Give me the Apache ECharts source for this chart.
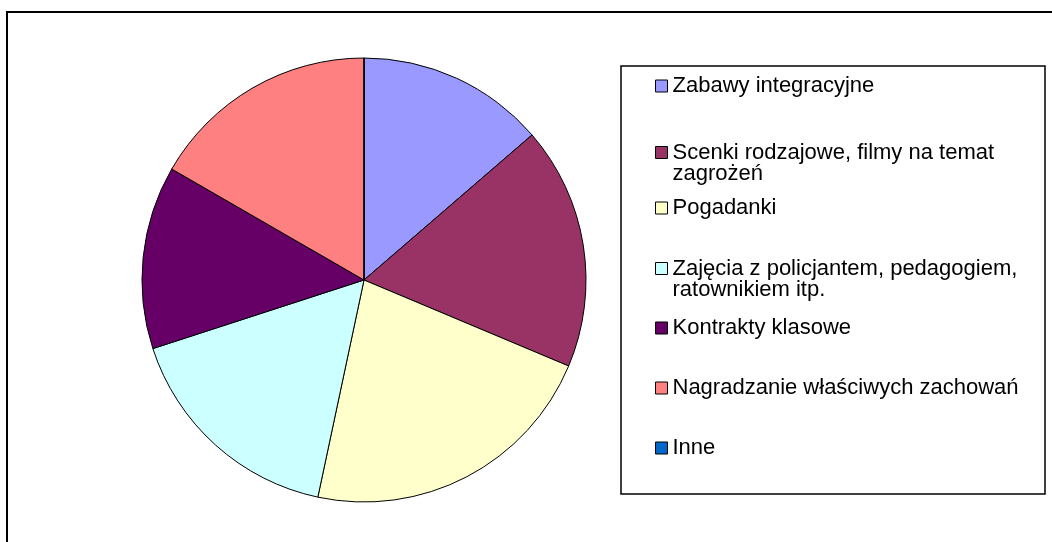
<!DOCTYPE html>
<html>
<head>
<meta charset="utf-8">
<script src="https://cdn.jsdelivr.net/npm/echarts@6/dist/echarts.min.js"></script>
<style>
html, body { margin: 0; padding: 0; background: #fff; }
#chart { width: 1052px; height: 542px; }
</style>
</head>
<body>
<div id="chart"></div>
<script>
// dane
var categories = [
  'Zabawy integracyjne',
  'Scenki rodzajowe, filmy na temat\nzagrożeń',
  'Pogadanki',
  'Zajęcia z policjantem, pedagogiem,\nratownikiem itp.',
  'Kontrakty klasowe',
  'Nagradzanie właściwych zachowań',
  'Inne'
];
var values = [41, 53, 66, 50, 40, 50, 0];

// wyglad
var colors = ['#9999FF', '#993366', '#FFFFCC', '#CCFFFF', '#660066', '#FF8080', '#0066CC'];
var legendY = [86, 152, 208, 268, 328, 388, 448]; // srodek ikony kazdej pozycji

var chart = echarts.init(document.getElementById('chart'));

var legends = categories.map(function (name, i) {
  var twoLines = name.indexOf('\n') >= 0;
  return {
    data: [name],
    orient: 'vertical',
    left: 655,
    top: legendY[i] - (twoLines ? 31.5 : 11),
    padding: 0,
    icon: 'rect',
    itemWidth: 12,
    itemHeight: 12,
    selectedMode: false,
    itemStyle: { borderColor: '#000', borderWidth: 1 },
    // pusta linia na poczatku, zeby ikona stala przy pierwszym wierszu
    formatter: function (n) { return n.indexOf('\n') >= 0 ? '\n' + n : n; },
    textStyle: {
      fontFamily: 'Liberation Sans',
      fontSize: 22,
      lineHeight: 21,
      color: '#000'
    }
  };
});

var option = {
  animation: false,
  color: colors,
  legend: legends,
  graphic: [
    {
      type: 'rect',
      shape: { x: 7, y: 12, width: 1080, height: 560 },
      style: { fill: 'none', stroke: '#000', lineWidth: 2 }
    },
    {
      type: 'rect',
      shape: { x: 621, y: 66, width: 424, height: 428 },
      style: { fill: 'none', stroke: '#000', lineWidth: 1.5 }
    }
  ],
  series: [
    {
      type: 'pie',
      center: [364, 280],
      radius: 222,
      startAngle: 90,
      clockwise: true,
      label: { show: false },
      labelLine: { show: false },
      emphasis: { disabled: true },
      itemStyle: { borderColor: '#000', borderWidth: 1 },
      data: categories.map(function (name, i) {
        return { name: name, value: values[i] };
      })
    }
  ]
};

chart.setOption(option);
</script>
</body>
</html>
